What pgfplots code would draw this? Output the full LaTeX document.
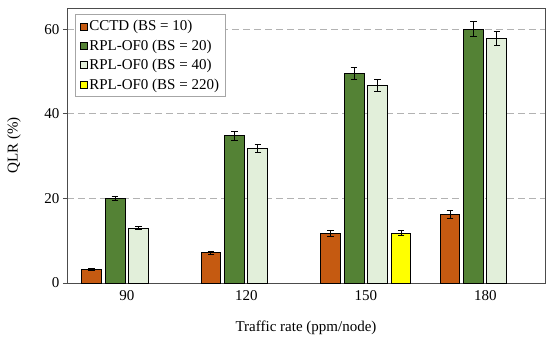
\documentclass[border=0pt]{standalone}
\usepackage{fontspec}
\setmainfont{Liberation Serif}
\usepackage{pgfplots}
\pgfplotsset{compat=1.18}
\definecolor{cctd}{HTML}{C55A11}
\definecolor{rplA}{HTML}{548235}
\definecolor{rplB}{HTML}{E2EFDA}
\definecolor{rplC}{HTML}{FFFF00}
\begin{document}
\begin{tikzpicture}[font=\fontsize{15bp}{17bp}\selectfont]
\path (-67bp,-67bp) rectangle (483bp,283bp);
\begin{axis}[
  at={(0,0)}, anchor=south west,
  scale only axis, width=478bp, height=275bp,
  xmin=-0.5, xmax=3.5, ymin=0, ymax=65,
  xtick={0,1,2,3}, xticklabels={90,120,150,180},
  major x tick style={draw=none},
  ytick={0,20,40,60},
  tick align=outside, major tick length=4bp,
  ytick pos=left,
  /pgf/number format/assume math mode=true,
  ymajorgrids, grid style={dash pattern=on 7bp off 4bp, gray!60, line width=0.8pt},
  axis line style={gray!60!black, line width=0.8pt},
  tick style={gray!60!black, line width=0.8pt},
  xlabel={Traffic rate (ppm/node)},
  ylabel={QLR (\%)},
  xlabel style={at={(axis description cs:0.5,-0.164)}, anchor=center},
  ylabel style={at={(axis description cs:-0.111,0.5)}, anchor=center},
  legend style={at={(axis description cs:0.017,0.978)}, anchor=north west,
    draw=gray!70, line width=0.8pt, cells={anchor=west}, row sep=3.5bp,
    inner xsep=4bp, inner ysep=4bp},
  legend cell align=left,
  legend image code/.code={\draw[#1, line width=0.8pt] (0bp,-3.5bp) rectangle (7bp,3.5bp);},
  error bars/error bar style={black, line width=1pt},
  error bars/error mark options={rotate=90, mark size=3.3bp, line width=1pt, black},
]
\addplot[ybar, bar width=0.167, bar shift=0pt, fill=cctd, draw=black, line width=1bp,
  error bars/.cd, y dir=both, y explicit]
  coordinates {(-0.295,3.2) +- (0,0.2) (0.705,7.1) +- (0,0.4) (1.705,11.7) +- (0,0.7) (2.705,16.2) +- (0,0.9)};
\addlegendentry{CCTD (BS = 10)}
\addplot[ybar, bar width=0.167, bar shift=0pt, fill=rplA, draw=black, line width=1bp,
  error bars/.cd, y dir=both, y explicit]
  coordinates {(-0.098,20.0) +- (0,0.5) (0.902,34.8) +- (0,1.0) (1.902,49.5) +- (0,1.45) (2.902,60.0) +- (0,1.85)};
\addlegendentry{RPL-OF0 (BS = 20)}
\addplot[ybar, bar width=0.167, bar shift=0pt, fill=rplB, draw=black, line width=1bp,
  error bars/.cd, y dir=both, y explicit]
  coordinates {(0.098,13.0) +- (0,0.3) (1.098,31.8) +- (0,0.9) (2.098,46.7) +- (0,1.4) (3.098,57.7) +- (0,1.65)};
\addlegendentry{RPL-OF0 (BS = 40)}
\addplot[ybar, bar width=0.167, bar shift=0pt, fill=rplC, draw=black, line width=1bp,
  error bars/.cd, y dir=both, y explicit]
  coordinates {(2.295,11.8) +- (0,0.6)};
\addlegendentry{RPL-OF0 (BS = 220)}
\end{axis}
\end{tikzpicture}
\end{document}
